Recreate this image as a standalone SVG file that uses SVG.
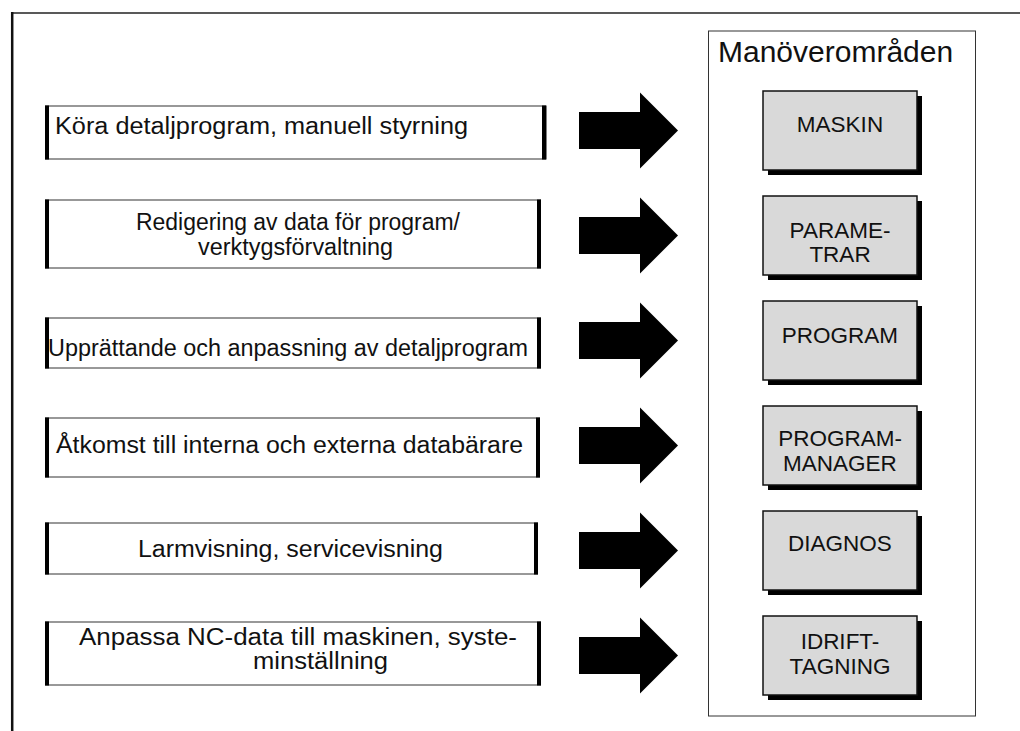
<svg xmlns="http://www.w3.org/2000/svg" width="1020" height="731" viewBox="0 0 1020 731">
<style>
  .frame { fill: none; stroke: #222; }
  .lbox { fill: #fff; stroke: #333; stroke-width: 1; }
  .bar { fill: #000; }
  .ltxt { font-family: "Liberation Sans", Arial, sans-serif; font-size: 23px; fill: #111; }
  .rbox { fill: #d9d9d9; stroke: #111; stroke-width: 1.5; }
  .shadow { fill: #000; }
  .rtxt { font-family: "Liberation Sans", Arial, sans-serif; font-size: 22.5px; fill: #111; text-anchor: middle; }
  .title { font-family: "Liberation Sans", Arial, sans-serif; font-size: 30px; fill: #111; }
  .arrow { fill: #000; }
</style>
<defs>
  <path id="arr" d="M579,-18.5 H640 V-38 L678,0 L640,38 V18.5 H579 Z"/>
</defs>
<rect width="1020" height="731" fill="#fff"/>
<!-- outer frame -->
<line x1="11" y1="13" x2="1020" y2="13" stroke="#222" stroke-width="1.5"/>
<line x1="12.2" y1="12" x2="12.2" y2="731" stroke="#111" stroke-width="2.5"/>

<!-- left nodes -->
<g id="task1">
  <rect class="lbox" x="45.5" y="106" width="500" height="53"/>
  <rect class="bar" x="45" y="105.5" width="4" height="54"/>
  <rect class="bar" x="542" y="105.5" width="4.5" height="54"/>
  <text class="ltxt" x="55" y="134" textLength="413" lengthAdjust="spacingAndGlyphs">Köra detaljprogram, manuell styrning</text>
</g>
<g id="task2">
  <rect class="lbox" x="45.5" y="200" width="495" height="68"/>
  <rect class="bar" x="45" y="199.5" width="4" height="69"/>
  <rect class="bar" x="537" y="199.5" width="4" height="69"/>
  <text class="ltxt" x="136" y="230" textLength="324" lengthAdjust="spacingAndGlyphs">Redigering av data för program/</text>
  <text class="ltxt" x="198" y="255" textLength="195" lengthAdjust="spacingAndGlyphs">verktygsförvaltning</text>
</g>
<g id="task3">
  <rect class="lbox" x="45.5" y="318" width="495" height="50"/>
  <rect class="bar" x="45" y="317.5" width="4" height="51"/>
  <rect class="bar" x="537" y="317.5" width="4" height="51"/>
  <text class="ltxt" x="48" y="356" textLength="480" lengthAdjust="spacingAndGlyphs">Upprättande och anpassning av detaljprogram</text>
</g>
<g id="task4">
  <rect class="lbox" x="45.5" y="418" width="494" height="59"/>
  <rect class="bar" x="45" y="417.5" width="4" height="60"/>
  <rect class="bar" x="536" y="417.5" width="4" height="60"/>
  <text class="ltxt" x="56" y="453" textLength="467" lengthAdjust="spacingAndGlyphs">Åtkomst till interna och externa databärare</text>
</g>
<g id="task5">
  <rect class="lbox" x="45.5" y="523" width="492" height="51"/>
  <rect class="bar" x="45" y="522.5" width="4" height="52"/>
  <rect class="bar" x="534" y="522.5" width="4" height="52"/>
  <text class="ltxt" x="138" y="557" textLength="305" lengthAdjust="spacingAndGlyphs">Larmvisning, servicevisning</text>
</g>
<g id="task6">
  <rect class="lbox" x="45.5" y="622" width="495" height="63"/>
  <rect class="bar" x="45" y="621.5" width="4" height="64"/>
  <rect class="bar" x="537" y="621.5" width="4" height="64"/>
  <text class="ltxt" x="79" y="645" textLength="438" lengthAdjust="spacingAndGlyphs">Anpassa NC-data till maskinen, syste-</text>
  <text class="ltxt" x="253" y="669" textLength="135" lengthAdjust="spacingAndGlyphs">minställning</text>
</g>

<!-- connectors (block arrows) -->
<g id="connectors" class="arrow">
  <use href="#arr" transform="translate(0,130.5)"/>
  <use href="#arr" transform="translate(0,235.5)"/>
  <use href="#arr" transform="translate(0,340.5)"/>
  <use href="#arr" transform="translate(0,445.5)"/>
  <use href="#arr" transform="translate(0,550.5)"/>
  <use href="#arr" transform="translate(0,655.5)"/>
</g>

<!-- right container -->
<g id="operating-areas">
  <rect x="708.5" y="31" width="267" height="685" fill="#fff" stroke="#333" stroke-width="1"/>
  <text class="title" x="718" y="62">Manöverområden</text>
</g>

<g id="maskin">
  <rect class="shadow" x="768" y="96" width="154" height="79"/>
  <rect class="rbox" x="763" y="91" width="154" height="79"/>
  <text class="rtxt" x="840" y="132">MASKIN</text>
</g>
<g id="parametrar">
  <rect class="shadow" x="768" y="201" width="154" height="79"/>
  <rect class="rbox" x="763" y="196" width="154" height="79"/>
  <text class="rtxt" x="840" y="238">PARAME-</text>
  <text class="rtxt" x="840" y="262">TRAR</text>
</g>
<g id="program">
  <rect class="shadow" x="768" y="306" width="154" height="79"/>
  <rect class="rbox" x="763" y="301" width="154" height="79"/>
  <text class="rtxt" x="840" y="343">PROGRAM</text>
</g>
<g id="programmanager">
  <rect class="shadow" x="768" y="411" width="154" height="79"/>
  <rect class="rbox" x="763" y="406" width="154" height="79"/>
  <text class="rtxt" x="840" y="446">PROGRAM-</text>
  <text class="rtxt" x="840" y="471">MANAGER</text>
</g>
<g id="diagnos">
  <rect class="shadow" x="768" y="516" width="154" height="79"/>
  <rect class="rbox" x="763" y="511" width="154" height="79"/>
  <text class="rtxt" x="840" y="551">DIAGNOS</text>
</g>
<g id="idrifttagning">
  <rect class="shadow" x="768" y="621" width="154" height="79"/>
  <rect class="rbox" x="763" y="616" width="154" height="79"/>
  <text class="rtxt" x="840" y="649">IDRIFT-</text>
  <text class="rtxt" x="840" y="674">TAGNING</text>
</g>
</svg>
